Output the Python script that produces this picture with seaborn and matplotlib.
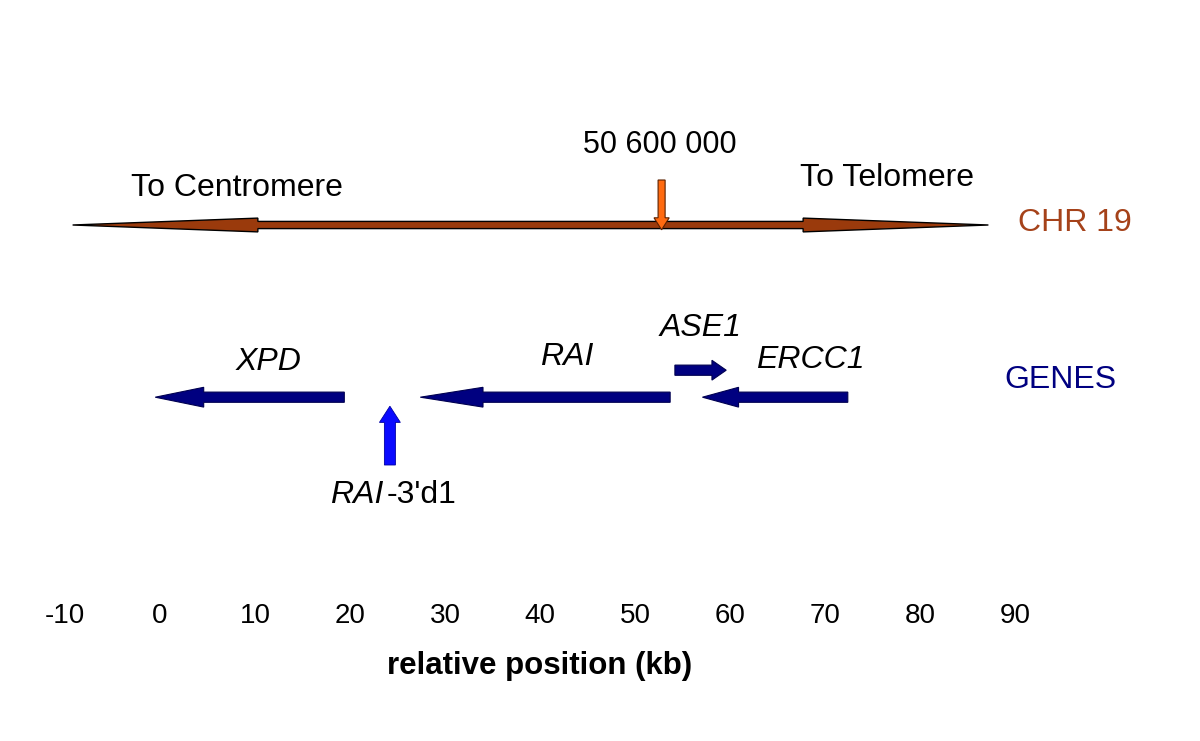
import matplotlib
matplotlib.use('Agg')
import matplotlib.pyplot as plt
from matplotlib.patches import FancyArrow
import seaborn as sns

# chromosome track (kb, relative to XPD)
chrom_start = -9.2
chrom_end = 87.2
chrom_head = 19.5
marker_pos = 52.8
marker_label = '50 600 000'

# genes: name, start, end (arrow tip), head length
gene_names = ['XPD', 'RAI', 'ASE1', 'ERCC1']
gene_starts = [19.4, 53.7, 54.2, 72.4]
gene_ends = [-0.5, 27.4, 59.6, 57.1]
gene_heads = [5.1, 6.6, 1.5, 3.8]
gene_rows = [33.8, 33.8, 38.3, 33.8]
gene_label_x = [11.4, 42.8, 56.9, 68.5]
gene_label_y = [39.7, 40.5, 45.3, 40.0]

# RAI-3'd1 site
site_pos = 24.2

tick_values = [-10, 0, 10, 20, 30, 40, 50, 60, 70, 80, 90]

sns.set_theme(style='white')
plt.rcParams['font.family'] = ['Liberation Sans', 'DejaVu Sans']
plt.rcParams['axes.unicode_minus'] = False
plt.rcParams['text.color'] = 'black'
plt.rcParams['axes.labelcolor'] = 'black'
plt.rcParams['xtick.color'] = 'black'

fig = plt.figure(figsize=(12, 7.41), dpi=100)
ax = fig.add_axes([0, 141 / 741, 1, 600 / 741])
ax.set_xlim(-160 / 9.5, 1040 / 9.5)
ax.set_ylim(0, 100)

brown = '#9a3a0c'
navy = '#000080'

# chromosome double arrow
cy = 62.5
sw, hw = 0.6, 1.15
xs = [chrom_start, chrom_start + chrom_head, chrom_start + chrom_head,
      chrom_end - chrom_head, chrom_end - chrom_head, chrom_end,
      chrom_end - chrom_head, chrom_end - chrom_head,
      chrom_start + chrom_head, chrom_start + chrom_head]
ys = [cy, cy + hw, cy + sw, cy + sw, cy + hw, cy,
      cy - hw, cy - sw, cy - sw, cy - hw]
ax.fill(xs, ys, facecolor=brown, edgecolor='black', linewidth=1.0, zorder=2)

# position marker
ax.add_patch(FancyArrow(marker_pos, 70.0, 0, 61.7 - 70.0, width=0.74,
                        head_width=1.6, head_length=2.0, length_includes_head=True,
                        facecolor='#ff6a10', edgecolor='#5a2000', linewidth=0.8, zorder=3))
ax.text(marker_pos - 0.2, 75.8, marker_label, ha='center', va='center', fontsize=22)

ax.text(8.1, 68.7, 'To Centromere', ha='center', va='center', fontsize=23)
ax.text(76.5, 70.3, 'To Telomere', ha='center', va='center', fontsize=23)
ax.text(96.3, 62.8, 'CHR 19', ha='center', va='center', fontsize=23, color='#a5421a')
ax.text(94.8, 36.7, 'GENES', ha='center', va='center', fontsize=23, color=navy)

# gene arrows
for name, s, e, hl, row, lx, ly in zip(gene_names, gene_starts, gene_ends, gene_heads,
                                        gene_rows, gene_label_x, gene_label_y):
    ax.add_patch(FancyArrow(s, row, e - s, 0, width=1.7, head_width=3.3, head_length=hl,
                            length_includes_head=True, facecolor=navy,
                            edgecolor='#000050', linewidth=0.8, zorder=3))
    ax.text(lx, ly, name, ha='center', va='center', fontsize=23, style='italic')

# RAI-3'd1 upward arrow
ax.add_patch(FancyArrow(site_pos, 22.5, 0, 32.3 - 22.5, width=1.16, head_width=2.2,
                        head_length=2.7, length_includes_head=True,
                        facecolor='#0a0aff', edgecolor='#0000a0', linewidth=0.6, zorder=3))
ax.text(site_pos - 0.7, 17.5, 'RAI', ha='right', va='center', fontsize=23, style='italic')
ax.text(site_pos - 0.3, 17.5, "-3'd1", ha='left', va='center', fontsize=23)

ax.set_xticks(tick_values)
ax.set_xticklabels([str(v) for v in tick_values], fontsize=20)
ax.tick_params(axis='x', length=0, pad=2)
ax.set_yticks([])
ax.set_xlabel('relative position (kb)', fontsize=22.5, fontweight='bold')
ax.xaxis.set_label_coords(540 / 1200, -51 / 600)
sns.despine(ax=ax, left=True, bottom=True)
ax.grid(False)

fig.savefig('out.png', dpi=100, facecolor='white')
